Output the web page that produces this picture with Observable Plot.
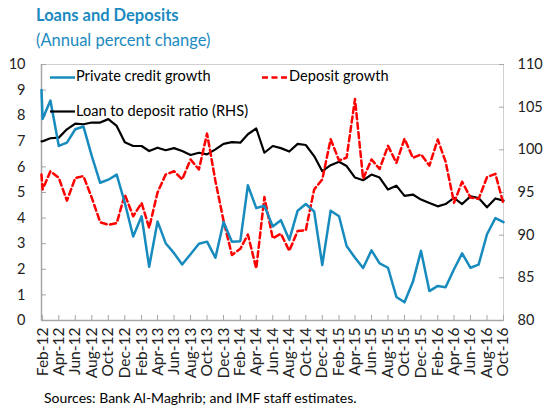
<!DOCTYPE html>
<html><head><meta charset="utf-8">
<script src="https://cdn.jsdelivr.net/npm/d3@7"></script>
<script src="https://cdn.jsdelivr.net/npm/@observablehq/plot@0.6"></script>
<style>
body{margin:0;background:#fff;font-family:Lato,"Open Sans",sans-serif;}
#wrap{position:relative;width:544px;height:408px;overflow:hidden;background:#fff;}
.title{position:absolute;left:36px;top:5px;font-weight:bold;font-size:16.5px;line-height:20px;color:#1B8AC0;}
.subtitle{position:absolute;left:36px;top:30px;font-size:16.5px;line-height:20px;color:#1B8AC0;}
#chart{position:absolute;left:0;top:55px;}
.caption{position:absolute;left:44px;top:391px;font-size:14px;line-height:14px;color:#000;white-space:nowrap;}
.leg{position:absolute;font-size:14.6px;line-height:16px;color:#000;white-space:nowrap;}
.sw{position:absolute;}
</style>
</head><body>
<div id="wrap">
  <div class="title">Loans and Deposits</div>
  <div class="subtitle">(Annual percent change)</div>
  <div id="chart"></div>
  <svg class="sw" style="left:50px;top:75px" width="25" height="5"><line x1="0" x2="25" y1="2.5" y2="2.5" stroke="#178BBE" stroke-width="2.5"/></svg>
  <div class="leg" style="left:76px;top:68px">Private credit growth</div>
  <svg class="sw" style="left:262px;top:75px" width="25" height="5"><line x1="0" x2="25" y1="2.5" y2="2.5" stroke="#FF0000" stroke-width="2.5" stroke-dasharray="6,3.5"/></svg>
  <div class="leg" style="left:289px;top:68px">Deposit growth</div>
  <svg class="sw" style="left:50px;top:109px" width="25" height="5"><line x1="0" x2="25" y1="2.5" y2="2.5" stroke="#000" stroke-width="2.2"/></svg>
  <div class="leg" style="left:76px;top:103px">Loan to deposit ratio (RHS)</div>
  <div class="caption">Sources: Bank Al-Maghrib; and IMF staff estimates.</div>
</div>
<script>
const months = ["Feb-12","Mar-12","Apr-12","May-12","Jun-12","Jul-12","Aug-12","Sep-12","Oct-12","Nov-12","Dec-12",
"Jan-13","Feb-13","Mar-13","Apr-13","May-13","Jun-13","Jul-13","Aug-13","Sep-13","Oct-13","Nov-13","Dec-13",
"Jan-14","Feb-14","Mar-14","Apr-14","May-14","Jun-14","Jul-14","Aug-14","Sep-14","Oct-14","Nov-14","Dec-14",
"Jan-15","Feb-15","Mar-15","Apr-15","May-15","Jun-15","Jul-15","Aug-15","Sep-15","Oct-15","Nov-15","Dec-15",
"Jan-16","Feb-16","Mar-16","Apr-16","May-16","Jun-16","Jul-16","Aug-16","Sep-16","Oct-16"];

// values at the left edge of the chart (series continue from the prior month)
const edgeCredit = 9.0, edgeDeposit = 5.7, edgeRatio = 101.0;

const creditGrowth = [7.87,8.59,6.82,6.95,7.47,7.58,6.42,5.38,5.5,5.7,4.6,
3.28,4.07,2.1,3.87,3.02,2.63,2.19,2.59,3.0,3.08,2.45,3.85,
3.08,3.1,5.28,4.39,4.48,3.67,3.92,3.15,4.29,4.55,4.26,2.17,
4.29,4.07,2.91,2.45,2.05,2.74,2.23,2.06,0.92,0.71,1.51,2.72,
1.15,1.35,1.3,2.0,2.62,2.06,2.18,3.37,4.0,3.84];

const depositGrowth = [5.12,5.83,5.57,4.68,5.57,5.64,4.79,3.84,3.74,3.8,4.92,
4.07,4.59,3.62,5.0,5.7,5.83,5.51,6.29,5.9,7.3,5.45,3.9,
2.56,2.8,3.36,2.03,4.82,3.21,3.39,2.72,3.5,3.52,5.12,5.51,
7.08,6.25,6.36,8.65,5.54,6.29,5.92,6.82,6.16,7.1,6.35,6.49,
6.05,7.07,6.2,4.6,5.42,4.8,4.75,5.6,5.73,4.55];

const loanDepositRatio = [101.0,101.36,101.43,102.4,103.08,103.0,103.2,103.2,103.6,102.8,100.9,
100.45,100.45,99.86,100.25,99.95,100.2,99.86,99.4,99.66,99.47,100.06,100.7,
100.9,100.84,101.83,102.5,99.66,100.45,100.2,99.8,100.7,100.57,99.27,97.5,
98.2,98.6,98.1,96.75,96.44,97.1,96.75,95.35,95.8,94.6,94.76,94.17,
93.77,93.38,93.65,94.36,93.65,94.55,94.36,93.26,94.3,94.05];

const tickLabels = ["Feb-12","Apr-12","Jun-12","Aug-12","Oct-12","Dec-12","Feb-13","Apr-13","Jun-13","Aug-13","Oct-13","Dec-13",
"Feb-14","Apr-14","Jun-14","Aug-14","Oct-14","Dec-14","Feb-15","Apr-15","Jun-15","Aug-15","Oct-15","Dec-15",
"Feb-16","Apr-16","Jun-16","Aug-16","Oct-16"];
const leftTicks = [0,1,2,3,4,5,6,7,8,9,10];
const rightTicks = [80,85,90,95,100,105,110];

const parse = d3.utcParse("%b-%y");
const dates = months.map(parse);
const start = d3.utcDay.offset(dates[0], -4);
const toLeft = r => (r - 80) / 3;
const rows = [{date: start, credit: edgeCredit, deposit: edgeDeposit, ratio: toLeft(edgeRatio)}]
  .concat(dates.map((d, i) => ({date: d, credit: creditGrowth[i], deposit: depositGrowth[i], ratio: toLeft(loanDepositRatio[i])})));
const tickDates = tickLabels.map(parse);
const labelOf = new Map(tickDates.map((d, i) => [+d, tickLabels[i]]));
const axisGray = "#a6a6a6";

const chart = Plot.plot({
  width: 544, height: 335,
  marginLeft: 41, marginRight: 41, marginTop: 9, marginBottom: 70,
  style: {fontFamily: "Lato, 'Open Sans', sans-serif", fontSize: "14.5px", color: "#000", background: "transparent", overflow: "visible"},
  x: {type: "utc", domain: [start, dates[dates.length - 1]]},
  y: {domain: [0, 10]},
  marks: [
    Plot.frame({stroke: "#d0d0d0"}),
    Plot.ruleY([0], {stroke: axisGray, strokeWidth: 1.5}),
    Plot.ruleX([start], {stroke: axisGray, strokeWidth: 1.5}),
    Plot.axisY({anchor: "left", ticks: leftTicks, tickSize: 0, tickPadding: 16, fill: "#222"}),
    Plot.axisY({anchor: "left", ticks: leftTicks, tickSize: 5, dx: 5, tickFormat: () => "", stroke: axisGray}),
    Plot.axisY({anchor: "right", ticks: rightTicks.map(toLeft), tickSize: 0, tickPadding: 14, fill: "#222", tickFormat: d => String(Math.round(80 + 3 * d))}),
    Plot.axisY({anchor: "right", ticks: rightTicks.map(toLeft), tickSize: 5, dx: -5, tickFormat: () => "", stroke: axisGray}),
    Plot.axisX({ticks: tickDates, tickSize: 0, tickPadding: 7, tickRotate: -90, fill: "#222", fontSize: 15.5, tickFormat: d => labelOf.get(+d)}),
    Plot.axisX({ticks: tickDates, tickSize: 5, dy: -5, tickFormat: () => "", stroke: axisGray}),
    Plot.line(rows, {x: "date", y: "ratio", stroke: "#000", strokeWidth: 2.2}),
    Plot.line(rows, {x: "date", y: "deposit", stroke: "#FF0000", strokeWidth: 2.5, strokeDasharray: "6,3.5"}),
    Plot.line(rows, {x: "date", y: "credit", stroke: "#178BBE", strokeWidth: 2.5})
  ]
});
document.getElementById("chart").appendChild(chart);
</script>
</body></html>
